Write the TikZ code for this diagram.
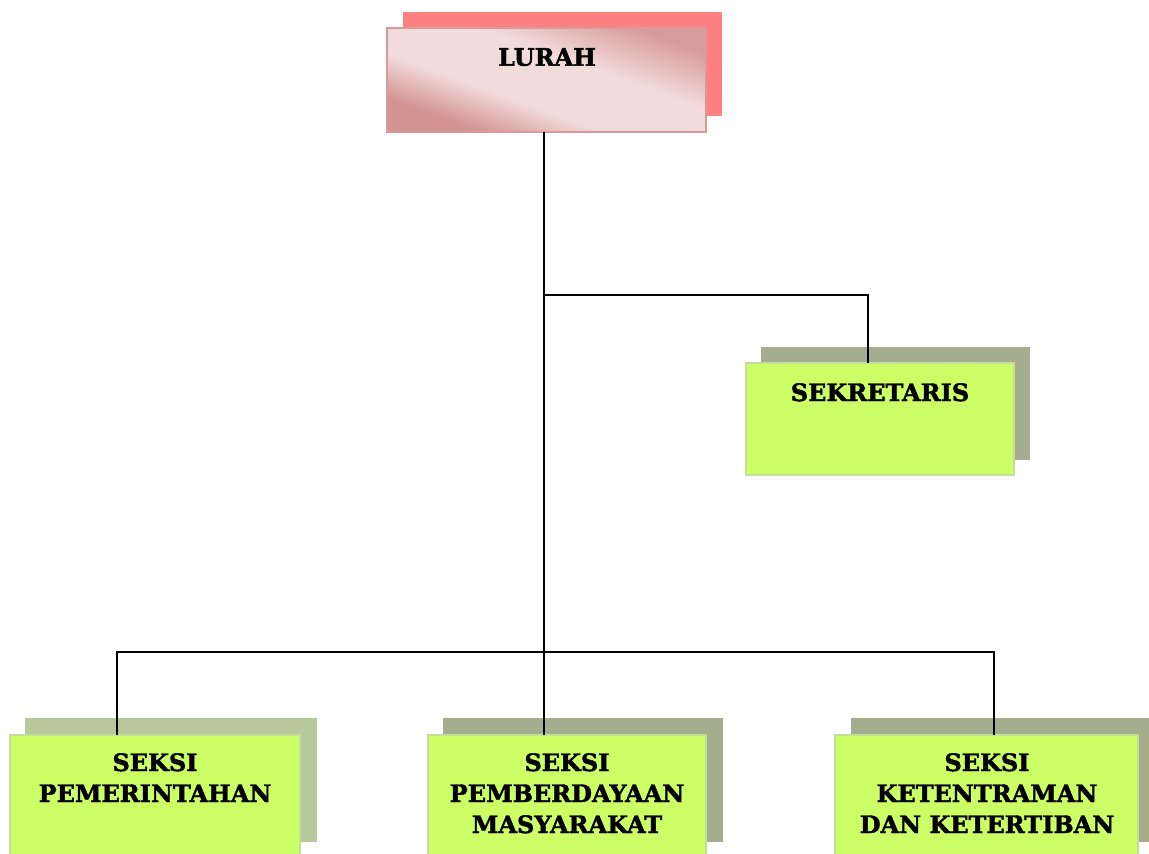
\documentclass[tikz,border=0pt]{standalone}
\usepackage{fontspec}
\setmainfont{DejaVu Serif}[BoldFeatures={FakeBold=1.8}]
\usetikzlibrary{positioning}
\definecolor{lurahlight}{HTML}{F2DCDB}
\definecolor{lurahdark}{HTML}{D49492}
\definecolor{lurahshadow}{HTML}{FF8080}
\definecolor{lurahborder}{HTML}{DA9A98}
\definecolor{greenfill}{HTML}{CCFF66}
\definecolor{greenborder}{HTML}{C4DD98}
\definecolor{shadowA}{HTML}{A5AD8F}
\definecolor{shadowB}{HTML}{B9C89B}
\pgfdeclarehorizontalshading{lurahshade}{100bp}{color(0bp)=(lurahdark); color(28bp)=(lurahdark); color(41bp)=(lurahlight); color(58bp)=(lurahlight); color(75bp)=(lurahdark!90!lurahlight); color(100bp)=(lurahdark!90!lurahlight)}
\tikzset{
  box/.style={rectangle, inner sep=0pt, outer sep=0pt, anchor=north west},
  shadowbox/.style={box, draw=none},
  frontbox/.style={box, fill=greenfill, draw=greenborder, line width=1.6pt},
  lurahbox/.style={box, shading=lurahshade, shading angle=70, draw=lurahborder, line width=1.6pt},
  label/.style={font=\bfseries\fontsize{24}{31}\selectfont, align=center, anchor=north, inner sep=0pt},
  conn/.style={draw=black, line width=1.4pt},
}
\begin{document}
\begin{tikzpicture}[x=1pt,y=-1pt]
\useasboundingbox (0,0) rectangle (1149,854);
\clip (0,0) rectangle (1149,854);
% LURAH
\node[shadowbox, fill=lurahshadow, minimum width=319pt, minimum height=104pt] (lurahsh) at (403,12) {};
\node[lurahbox, minimum width=319pt, minimum height=104pt] (lurah) at (387,28) {};
\node[label] (lurahtxt) at (547,48) {LURAH};
% SEKRETARIS
\node[shadowbox, fill=shadowA, minimum width=269pt, minimum height=113pt] (sekrsh) at (761,347) {};
\node[frontbox, minimum width=268pt, minimum height=112pt] (sekr) at (746,363) {};
\node[label] (sekrtxt) at (880,383) {SEKRETARIS};
% Bottom boxes
\node[shadowbox, fill=shadowB, minimum width=292pt, minimum height=124pt] (pemsh) at (25,718) {};
\node[frontbox, minimum width=290pt, minimum height=130pt] (pem) at (10,735) {};
\node[label] (pemtxt) at (155,753) {SEKSI\\PEMERINTAHAN};
\node[shadowbox, fill=shadowA, minimum width=280pt, minimum height=124pt] (pbdsh) at (443,718) {};
\node[frontbox, minimum width=278pt, minimum height=130pt] (pbd) at (428,735) {};
\node[label] (pbdtxt) at (567,753) {SEKSI\\PEMBERDAYAAN\\MASYARAKAT};
\node[shadowbox, fill=shadowA, minimum width=300pt, minimum height=124pt] (ketsh) at (851,718) {};
\node[frontbox, minimum width=303pt, minimum height=130pt] (ket) at (835,735) {};
\node[label] (kettxt) at (987,753) {SEKSI\\KETENTRAMAN\\DAN KETERTIBAN};
% connectors
\coordinate (j1) at (544,295);
\coordinate (j2) at (544,652);
\draw[conn] (lurah.south -| j1) -- (pbd.north -| j1);
\draw[conn] (j1) -| (sekr.north -| 868,0);
\draw[conn] (pem.north -| 117,0) |- (j2) -| (ket.north -| 994,0);
\end{tikzpicture}
\end{document}
